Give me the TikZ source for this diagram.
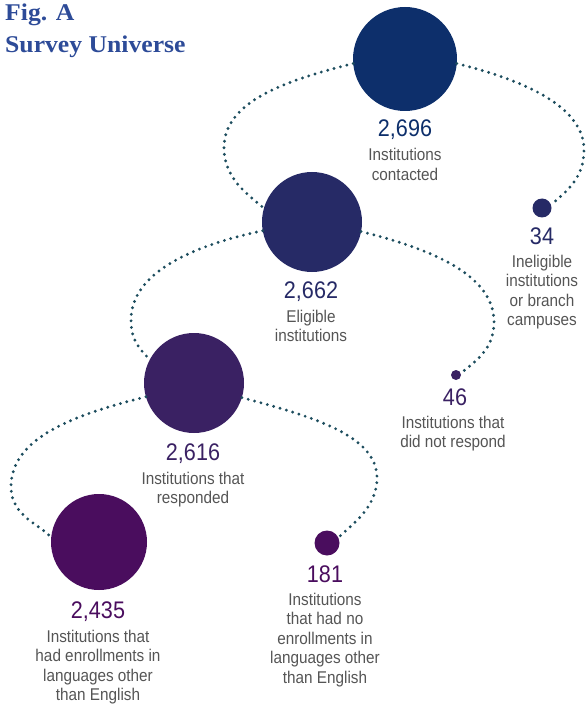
\documentclass[tikz,border=0pt]{standalone}
\usepackage{fontspec}
\setmainfont{Liberation Sans}
\newfontfamily\titlefont[FakeStretch=1.07]{Liberation Serif}
\newfontfamily\labfont[FakeStretch=0.9]{Liberation Sans}
\definecolor{titleblue}{HTML}{2D4B98}
\definecolor{cA}{HTML}{0D2F6B}
\definecolor{cB}{HTML}{262A66}
\definecolor{cC}{HTML}{3A2163}
\definecolor{cD}{HTML}{4A0D5E}
\definecolor{dotc}{HTML}{1D4D5E}
\definecolor{labgray}{HTML}{555555}
\tikzset{
  bubble/.style={circle, inner sep=0pt, outer sep=0pt},
  dotline/.style={draw=dotc, line width=3.2pt, line cap=round, dash pattern=on 0pt off 6.6pt},
  num/.style={anchor=base, inner sep=0pt, font=\labfont\fontsize{24}{24}\selectfont},
  lab/.style={anchor=base, inner sep=0pt, align=center, text=labgray, font=\labfont\fontsize{17}{19.5}\selectfont},
  ttl/.style={anchor=base west, inner sep=0pt, text=titleblue, font=\titlefont\bfseries\fontsize{24}{24}\selectfont},
}
\begin{document}
\begin{tikzpicture}[x=1pt,y=1pt]
\path[use as bounding box] (0,0) rectangle (587,-708);

% title
\node[ttl] (t1) at (5,-21) {Fig. A};
\node[ttl] (t2) at (5,-53) {Survey Universe};

% bubbles
\node[bubble, fill=cA, minimum size=104pt] (c1) at (405,-59) {};
\node[bubble, fill=cB, minimum size=100pt] (c2) at (312,-222) {};
\node[bubble, fill=cC, minimum size=100pt] (c3) at (194,-383) {};
\node[bubble, fill=cD, minimum size=96pt] (c4) at (99,-542) {};
\node[bubble, fill=cB, minimum size=19pt] (d34) at (542,-208) {};
\node[bubble, fill=cC, minimum size=10pt] (d46) at (456,-375) {};
\node[bubble, fill=cD, minimum size=25pt] (d181) at (327,-543) {};

% turning points
\coordinate (pA) at (224,-148);
\coordinate (pB) at (584,-150);
\coordinate (pC) at (131,-320);
\coordinate (pD) at (494,-322);
\coordinate (pE) at (11,-487);
\coordinate (pF) at (377,-478);

% dotted connectors
\draw[dotline] (c1.185) .. controls +(194:72) and +(90:46) .. (pA)
  .. controls +(270:30) and +(140:22) .. (c2.164);
\draw[dotline] (c1.-5) .. controls +(-14:62) and +(90:46) .. (pB)
  .. controls +(270:28) and +(40:20) .. (d34.20);
\draw[dotline] (c2.190) .. controls +(192:70) and +(90:48) .. (pC)
  .. controls +(270:20) and +(135:15) .. (c3.152);
\draw[dotline] (c2.-11) .. controls +(-14:70) and +(90:48) .. (pD)
  .. controls +(270:28) and +(40:18) .. (d46.20);
\draw[dotline] (c3.196) .. controls +(194:72) and +(90:50) .. (pE)
  .. controls +(270:30) and +(125:15) .. (c4.175);
\draw[dotline] (c3.-17) .. controls +(-15:72) and +(90:43) .. (pF)
  .. controls +(270:30) and +(45:18) .. (d181.25);

% numbers
\node[num, text=cA] (n1) at (405,-137) {2,696};
\node[num, text=cB] (n34) at (542,-244) {34};
\node[num, text=cB] (n2) at (311,-298) {2,662};
\node[num, text=cC] (n46) at (455,-405) {46};
\node[num, text=cC] (n3) at (193,-460) {2,616};
\node[num, text=cD] (n4) at (98,-618) {2,435};
\node[num, text=cD] (n181) at (325,-582) {181};

% labels (base anchor = baseline of the last line)
\node[lab] (l1) at (405,-180.5) {Institutions\\contacted};
\node[lab] (l34) at (542,-325.5) {Ineligible\\institutions\\or branch\\campuses};
\node[lab] (l2) at (311,-341.5) {Eligible\\institutions};
\node[lab] (l46) at (453,-447.5) {Institutions that\\did not respond};
\node[lab] (l3) at (193,-503.5) {Institutions that\\responded};
\node[lab] (l4) at (98,-700.5) {Institutions that\\had enrollments in\\languages other\\than English};
\node[lab] (l181) at (325,-683) {Institutions\\that had no\\enrollments in\\languages other\\than English};
\end{tikzpicture}
\end{document}
